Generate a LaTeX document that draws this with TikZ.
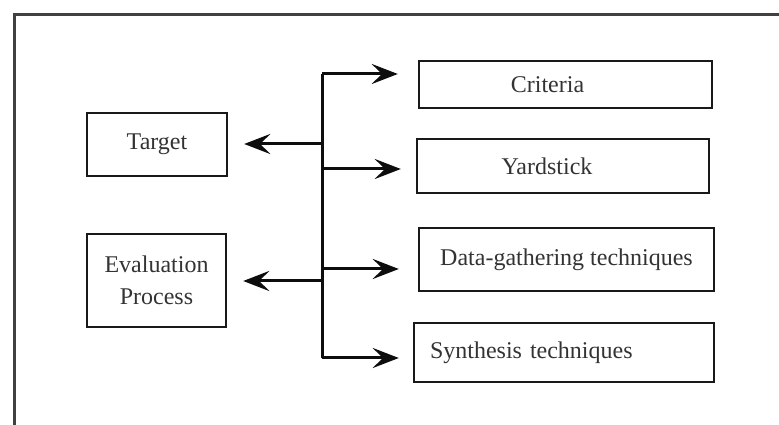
\documentclass[tikz,border=0pt]{standalone}
\usepackage{fontspec}
\setmainfont{Liberation Serif}
\usetikzlibrary{arrows.meta}
\begin{document}
\begin{tikzpicture}[x=1pt,y=1pt,
  box/.style={draw=black!90,line width=2.4pt,inner sep=0pt,font=\fontsize{24}{32}\selectfont,text=black!80},
  link/.style={line width=3pt,black!95,-{Stealth[length=26pt,width=20pt,inset=10pt]}},
  bus/.style={line width=3pt,black!95}]
  \useasboundingbox (0,0) rectangle (779,425);
  % outer frame (only top and left edges fall inside the page)
  \draw[line width=3pt,black!75] (14,-5) -- (14,410) -- (785,410);

  % left boxes
  \node[box,minimum width=140,minimum height=63] (target) at (157,280.5) {Target};
  \node[box,minimum width=139,minimum height=93,align=center] (evalp) at (156.5,144.5) {Evaluation\\Process};

  % right boxes
  \node[box,minimum width=293,minimum height=47] (crit) at (565.5,340.5) {\raisebox{-5pt}{\hspace*{-36pt}Criteria}};
  \node[box,minimum width=292,minimum height=54] (yard) at (563,259) {\raisebox{-4pt}{\hspace*{-32pt}Yardstick}};
  \node[box,minimum width=295,minimum height=63] (data) at (566.5,165.5) {\raisebox{-2pt}{Data-gathering techniques}};
  \node[box,minimum width=300,minimum height=59,text width=268,align=left] (synth) at (564,72.5) {Synthesis techniques};

  % vertical bus
  \coordinate (btop) at (322,351);
  \coordinate (bt) at (322,281);
  \coordinate (by) at (322,256);
  \coordinate (bd) at (322,156);
  \coordinate (be) at (322,144);
  \coordinate (bbot) at (322,67);
  \draw[bus] (btop) -- (bbot);

  % branches
  \draw[link,shorten >=20pt] (btop) -- (btop -| crit.west);
  \draw[link,shorten >=16pt] (bt) -- (bt -| target.east);
  \draw[link,shorten >=15pt] (by) -- (by -| yard.west);
  \draw[link,shorten >=19pt] (bd) -- (bd -| data.west);
  \draw[link,shorten >=16pt] (be) -- (be -| evalp.east);
  \draw[link,shorten >=14pt] (bbot) -- (bbot -| synth.west);
\end{tikzpicture}
\end{document}
